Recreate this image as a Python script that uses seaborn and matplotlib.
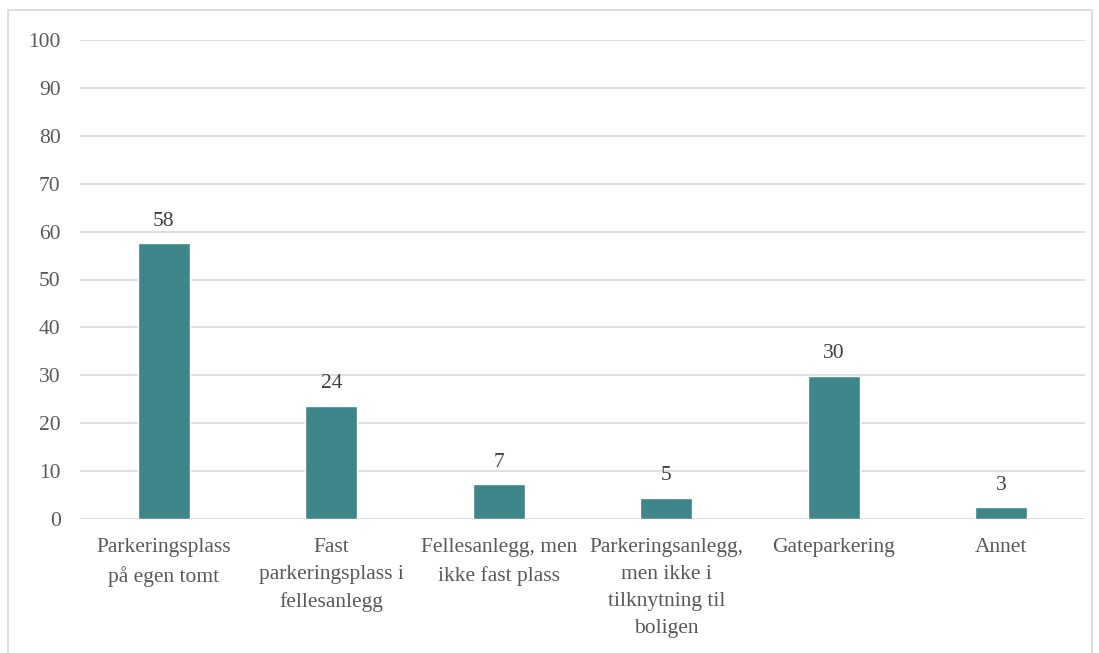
import matplotlib
matplotlib.use("Agg")
import matplotlib.pyplot as plt
import seaborn as sns
import pandas as pd
from matplotlib.patches import Rectangle

categories = [
    "Parkeringsplass\npå egen tomt",
    "Fast\nparkeringsplass i\nfellesanlegg",
    "Fellesanlegg, men\nikke fast plass",
    "Parkeringsanlegg,\nmen ikke i\ntilknytning til\nboligen",
    "Gateparkering",
    "Annet",
]
values = [57.6, 23.6, 7.3, 4.4, 29.9, 2.5]
value_labels = [58, 24, 7, 5, 30, 3]
yticks = [0, 10, 20, 30, 40, 50, 60, 70, 80, 90, 100]

df = pd.DataFrame({"kategori": categories, "andel": values})

sns.set_style("white")
plt.rcParams["font.family"] = ["Liberation Serif", "DejaVu Serif"]
text_col = "#595959"

fig = plt.figure(figsize=(10.99, 6.53), dpi=100)
ax = fig.add_axes([80 / 1099, 1 - 519 / 653, 1005 / 1099, 479 / 653])

sns.barplot(data=df, x="kategori", y="andel", color="#3f868a", saturation=1,
            width=0.31, ax=ax)

ax.set_ylim(0, 100)
ax.set_yticks(yticks)
ax.set_xlim(-0.5, len(categories) - 0.5)
ax.yaxis.grid(True, color="#d9d9d9", linewidth=1.2)
ax.set_axisbelow(True)
for s in ax.spines.values():
    s.set_visible(False)
ax.tick_params(axis="both", length=0, colors=text_col, labelsize=15.5)
ax.tick_params(axis="y", pad=14)
ax.tick_params(axis="x", pad=14)
for lbl in ax.get_xticklabels():
    lbl.set_linespacing(1.55)
ax.set_xlabel("")
ax.set_ylabel("")

ax.bar_label(ax.containers[0], labels=[str(v) for v in value_labels],
             padding=9, color="#404040", fontsize=15.5)

# outer frame of the chart
fig.patches.append(Rectangle((8 / 1099, -0.05), 1084 / 1099, 1 - 10 / 653 + 0.05,
                             transform=fig.transFigure, fill=False,
                             edgecolor="#d9d9d9", linewidth=1.2))

fig.savefig("out.png", dpi=100)
